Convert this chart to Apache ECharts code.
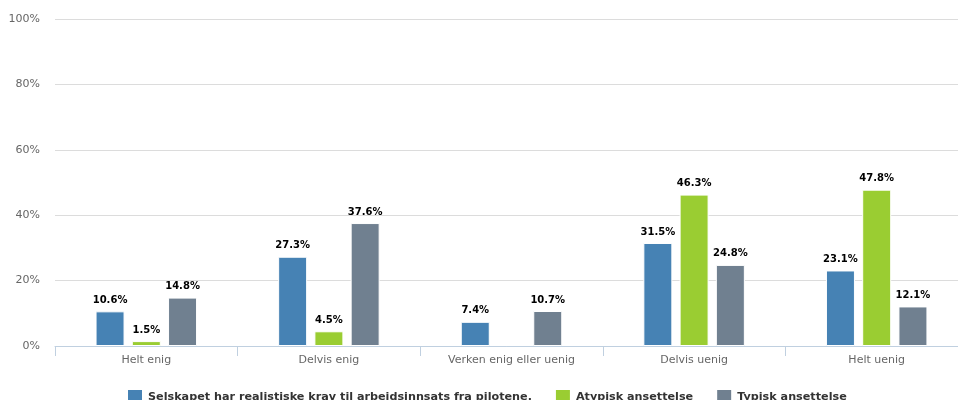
<!DOCTYPE html>
<html>
<head>
<meta charset="utf-8">
<script src="https://cdn.jsdelivr.net/npm/echarts@6/dist/echarts.min.js"></script>
<style>
  html, body { margin: 0; padding: 0; background: #fff; }
  #chart { width: 958px; height: 400px; }
</style>
</head>
<body>
<div id="chart"></div>
<script>
// kategorier og verdier (prosent)
var categories = ['Helt enig', 'Delvis enig', 'Verken enig eller uenig', 'Delvis uenig', 'Helt uenig'];
var seriesNames = ['Selskapet har realistiske krav til arbeidsinnsats fra pilotene.', 'Atypisk ansettelse', 'Typisk ansettelse'];
var selskapetValues = [10.6, 27.3, 7.4, 31.5, 23.1];
var atypiskValues = [1.5, 4.5, null, 46.3, 47.8];
var typiskValues = [14.8, 37.6, 10.7, 24.8, 12.1];
var colors = ['#4682b4', '#9acd32', '#708090'];

var font = 'DejaVu Sans, Lucida Grande, sans-serif';

function makeSeries(name, data) {
    return {
        name: name,
        type: 'bar',
        data: data,
        barWidth: 29,
        barGap: '25%',
        itemStyle: { borderColor: '#fff', borderWidth: 1 },
        label: {
            show: true,
            position: 'top',
            distance: 6,
            formatter: '{c}%',
            color: '#000',
            fontWeight: 'bold',
            fontSize: 10,
            fontFamily: font
        }
    };
}

var chart = echarts.init(document.getElementById('chart'));
chart.setOption({
    animation: false,
    color: colors,
    textStyle: { fontFamily: font },
    // plottet går litt forbi høyre kant i originalen
    grid: { left: 55, width: 913, top: 19, bottom: 54, containLabel: false, outerBoundsMode: 'none' },
    legend: {
        top: 388,
        left: 126,
        padding: 0,
        itemWidth: 16,
        itemHeight: 16,
        itemGap: 22,
        icon: 'rect',
        textStyle: { color: '#333', fontWeight: 'bold', fontSize: 11.2, fontFamily: font },
        data: seriesNames
    },
    xAxis: {
        type: 'category',
        data: categories,
        axisLine: { lineStyle: { color: '#c0d0e0' } },
        axisTick: { show: true, length: 10, lineStyle: { color: '#c0d0e0' } },
        axisLabel: { color: '#666', fontSize: 11, margin: 9 }
    },
    yAxis: {
        type: 'value',
        min: 0,
        max: 100,
        interval: 20,
        axisLabel: { formatter: '{value}%', color: '#666', fontSize: 11, margin: 15 },
        splitLine: { lineStyle: { color: '#dcdcdc' } },
        axisLine: { show: false },
        axisTick: { show: false }
    },
    series: [
        makeSeries(seriesNames[0], selskapetValues),
        makeSeries(seriesNames[1], atypiskValues),
        makeSeries(seriesNames[2], typiskValues)
    ]
});
</script>
</body>
</html>
